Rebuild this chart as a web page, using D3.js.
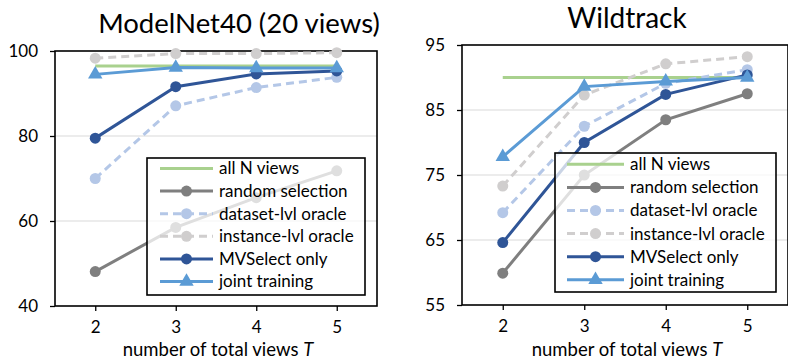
<!DOCTYPE html>
<html><head><meta charset="utf-8">
<script src="https://cdn.jsdelivr.net/npm/d3@7"></script>
<style>
body{margin:0;background:#fff;}
svg{display:block;font-family:Lato,"Open Sans",sans-serif;}
</style></head>
<body><svg id="c" width="788" height="358"></svg>
<script>
const categories = [2, 3, 4, 5];
const seriesNames = ["all N views","random selection","dataset-lvl oracle","instance-lvl oracle","MVSelect only","joint training"];
const seriesColors = ["#a9d18e","#7f7f7f","#b4c7e7","#d0cece","#2f5597","#5b9bd5"];
const seriesDashed = [false,false,true,true,false,false];
const seriesMarker = ["none","circle","circle","circle","circle","triangle"];

const modelnetTitle = "ModelNet40 (20 views)";
const modelnetTicks = [40, 60, 80, 100];
const modelnetAll = [96.5, 96.5, 96.5, 96.5];
const modelnetRandom = [48.1, 58.5, 65.5, 71.8];
const modelnetDataset = [70.0, 87.1, 91.4, 93.8];
const modelnetInstance = [98.3, 99.4, 99.4, 99.6];
const modelnetMVSelect = [79.5, 91.6, 94.6, 95.3];
const modelnetJoint = [94.5, 96.1, 96.0, 96.0];

const wildTitle = "Wildtrack";
const wildTicks = [55, 65, 75, 85, 95];
const wildAll = [90.0, 90.0, 90.0, 90.0];
const wildRandom = [59.9, 75.0, 83.5, 87.5];
const wildDataset = [69.2, 82.5, 89.1, 91.2];
const wildInstance = [73.3, 87.3, 92.1, 93.2];
const wildMVSelect = [64.6, 80.0, 87.4, 90.4];
const wildJoint = [77.8, 88.6, 89.4, 90.0];

const xTitle = "number of total views ";
const xTitleVar = "T";

const svg = d3.select("#c");

function drawPanel(cfg){
  const g = svg.append("g");
  const x = d3.scalePoint().domain(categories).range([cfg.left, cfg.right]).padding(0.5);
  const y = d3.scaleLinear().domain([cfg.ticks[0], cfg.ticks[cfg.ticks.length-1]]).range([cfg.bottom, cfg.top]);

  // gridlines
  g.append("g").selectAll("line").data(cfg.ticks.slice(1,-1)).join("line")
    .attr("x1", cfg.left).attr("x2", cfg.right)
    .attr("y1", d=>y(d)).attr("y2", d=>y(d))
    .attr("stroke", "#d9d9d9").attr("stroke-width", 1.2);

  // axes
  const ya = g.append("g").attr("transform", `translate(${cfg.left},0)`)
    .call(d3.axisLeft(y).tickValues(cfg.ticks).tickSize(5).tickPadding(12));
  ya.select(".domain").remove();
  ya.selectAll(".tick line").attr("stroke", "#000").attr("stroke-width", 1.3);
  ya.selectAll("text").attr("font-size", 17).attr("fill", "#000").attr("font-family", "Lato,sans-serif");

  const xa = g.append("g").attr("transform", `translate(0,${cfg.bottom})`)
    .call(d3.axisBottom(x).tickSize(5).tickPadding(10));
  xa.select(".domain").remove();
  xa.selectAll(".tick line").attr("stroke", "#000").attr("stroke-width", 1.3);
  xa.selectAll("text").attr("font-size", 17).attr("fill", "#000").attr("font-family", "Lato,sans-serif");

  // frame
  g.append("rect").attr("x", cfg.left).attr("y", cfg.top)
    .attr("width", cfg.right - cfg.left).attr("height", cfg.bottom - cfg.top)
    .attr("fill", "none").attr("stroke", "#000").attr("stroke-width", 1.6);

  // series
  const line = d3.line().x((d,i)=>x(categories[i])).y(d=>y(d));
  cfg.series.forEach((vals, si) => {
    const col = seriesColors[si];
    g.append("path").attr("d", line(vals)).attr("fill", "none")
      .attr("stroke", col).attr("stroke-width", 3)
      .attr("stroke-dasharray", seriesDashed[si] ? "8,5" : null);
    if (seriesMarker[si] === "circle") {
      g.append("g").selectAll("circle").data(vals).join("circle")
        .attr("cx", (d,i)=>x(categories[i])).attr("cy", d=>y(d)).attr("r", 5.5).attr("fill", col);
    } else if (seriesMarker[si] === "triangle") {
      g.append("g").selectAll("path").data(vals).join("path")
        .attr("transform", (d,i)=>`translate(${x(categories[i])},${y(d)})`)
        .attr("d", d3.symbol(d3.symbolTriangle, 90)).attr("fill", col);
    }
  });

  // title
  g.append("text").attr("x", cfg.titleX).attr("y", cfg.titleY).attr("text-anchor", "middle")
    .attr("font-size", cfg.titleSize).attr("fill", "#000").text(cfg.title);

  // x title
  const xt = g.append("text").attr("x", (cfg.left + cfg.right)/2 + 2).attr("y", 355.5)
    .attr("text-anchor", "middle").attr("font-size", 18.5).attr("fill", "#000");
  xt.append("tspan").text(xTitle);
  xt.append("tspan").attr("font-style", "italic").text(xTitleVar);

  // legend
  const L = cfg.legend;
  const lg = g.append("g");
  lg.append("rect").attr("x", L.x).attr("y", L.y).attr("width", L.w).attr("height", L.h)
    .attr("fill", "#fff").attr("fill-opacity", 0.75).attr("stroke", "#000").attr("stroke-width", 1.6);
  seriesNames.forEach((name, si) => {
    const ry = L.y + L.first + si * L.step;
    const col = seriesColors[si];
    lg.append("line").attr("x1", L.x + L.l0).attr("x2", L.x + L.l1).attr("y1", ry).attr("y2", ry)
      .attr("stroke", col).attr("stroke-width", 3)
      .attr("stroke-dasharray", seriesDashed[si] ? "8,5" : null);
    const mx = L.x + (L.l0 + L.l1)/2;
    if (seriesMarker[si] === "circle") {
      lg.append("circle").attr("cx", mx).attr("cy", ry).attr("r", 5.5).attr("fill", col);
    } else if (seriesMarker[si] === "triangle") {
      lg.append("path").attr("transform", `translate(${mx},${ry})`)
        .attr("d", d3.symbol(d3.symbolTriangle, 90)).attr("fill", col);
    }
    lg.append("text").attr("x", L.x + L.l1 + 6).attr("y", ry).attr("dy", "0.35em")
      .attr("font-size", 17).attr("fill", "#000").text(name);
  });
}

drawPanel({
  left: 55, right: 377, top: 51, bottom: 306,
  ticks: modelnetTicks, title: modelnetTitle, titleX: 239, titleY: 33, titleSize: 27.5,
  series: [modelnetAll, modelnetRandom, modelnetDataset, modelnetInstance, modelnetMVSelect, modelnetJoint],
  legend: {x: 147, y: 158, w: 218, h: 137, first: 10.5, step: 22.6, l0: 13, l1: 66}
});
drawPanel({
  left: 462, right: 788, top: 45, bottom: 305,
  ticks: wildTicks, title: wildTitle, titleX: 627, titleY: 28, titleSize: 28,
  series: [wildAll, wildRandom, wildDataset, wildInstance, wildMVSelect, wildJoint],
  legend: {x: 555, y: 153, w: 221, h: 139, first: 11.3, step: 23.1, l0: 12, l1: 69}
});
</script></body></html>
